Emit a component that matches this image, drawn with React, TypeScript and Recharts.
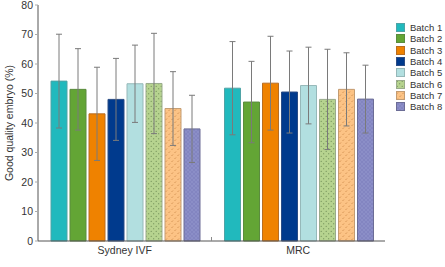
import React from "react";
import { BarChart, Bar, XAxis, YAxis, ErrorBar } from "recharts";

// sites on the x axis
const sites = ["Sydney IVF", "MRC"];
const batches = ["Batch 1", "Batch 2", "Batch 3", "Batch 4", "Batch 5", "Batch 6", "Batch 7", "Batch 8"];

// mean % of good quality embryos, one value per batch
const sydneyMeans = [54.2, 51.4, 43.1, 48.0, 53.3, 53.4, 44.9, 38.0];
const mrcMeans = [51.8, 47.1, 53.5, 50.5, 52.7, 48.0, 51.4, 48.1];
// standard deviations (error bars)
const sydneySd = [15.9, 13.8, 15.8, 13.9, 13.1, 17.0, 12.5, 11.4];
const mrcSd = [15.8, 13.8, 15.9, 13.9, 13.0, 17.0, 12.4, 11.5];

const yTicks = [0, 10, 20, 30, 40, 50, 60, 70, 80];

const FONT = "'Liberation Sans', Arial, sans-serif";
const TEXT = "#333";
const TICK_MARGIN = 6;

// fill + border per batch
const styles = [
  { fill: "#21b9bd", stroke: "#4fa3a6" },
  { fill: "#63a535", stroke: "#5b8c3e" },
  { fill: "#ef8200", stroke: "#b86d22" },
  { fill: "#003a8d", stroke: "#2b4c85" },
  { fill: "#b2dfe0", stroke: "#96b8b9" },
  { fill: "url(#pDots)", stroke: "#9aab8c" },
  { fill: "url(#pDash)", stroke: "#c39c72" },
  { fill: "url(#pHatch)", stroke: "#6c6d96" },
];

const data = sites.map((site, i) => {
  const means = i === 0 ? sydneyMeans : mrcMeans;
  const sds = i === 0 ? sydneySd : mrcSd;
  const row: any = { site };
  batches.forEach((_, b) => {
    row[`b${b}`] = means[b];
    row[`sd${b}`] = sds[b];
  });
  return row;
});

const SiteTick = (props: any) => {
  const { x, y, payload, index } = props;
  const axisY = y - TICK_MARGIN;
  const off = payload && payload.offset;
  return (
    <g>
      <text x={x} y={y} dy="0.71em" textAnchor="middle" fontSize={10.5} fill={TEXT} fontFamily={FONT}>
        {payload.value}
      </text>
      {index === 0 && off ? (
        <line x1={x + off} x2={x + off} y1={axisY} y2={axisY - 4} stroke="#8a8a8a" strokeWidth={1} />
      ) : null}
    </g>
  );
};

const Patterns = () => (
  <svg width={0} height={0} style={{ position: "absolute" }}>
    <defs>
      <pattern id="pDots" width={5} height={5} patternUnits="userSpaceOnUse">
        <rect width={5} height={5} fill="#b6d38f" />
        <circle cx={1.2} cy={1.2} r={0.55} fill="#5f7d48" />
        <circle cx={3.7} cy={3.7} r={0.55} fill="#5f7d48" />
      </pattern>
      <pattern id="pDash" width={6} height={6} patternUnits="userSpaceOnUse">
        <rect width={6} height={6} fill="#fcc385" />
        <line x1={0.5} y1={3} x2={2} y2={1.5} stroke="#c47f3e" strokeWidth={0.7} />
        <line x1={3.5} y1={6} x2={5} y2={4.5} stroke="#c47f3e" strokeWidth={0.7} />
      </pattern>
      <pattern id="pHatch" width={4} height={4} patternUnits="userSpaceOnUse">
        <rect width={4} height={4} fill="#8b8ec7" />
        <path d="M0,0 L4,4 M4,0 L0,4" stroke="#7a7cba" strokeWidth={0.5} />
      </pattern>
    </defs>
  </svg>
);

export default function App() {
  return (
    <div
      style={{
        position: "absolute",
        left: 0,
        top: 0,
        width: 445,
        height: 267,
        background: "#fff",
        overflow: "hidden",
      }}
    >
      <Patterns />
      <BarChart
        width={445}
        height={267}
        data={data}
        margin={{ top: 5, right: 60, bottom: 6, left: 0 }}
        barCategoryGap={13}
        barGap={3}
      >
        <YAxis
          domain={[0, 80]}
          ticks={yTicks}
          width={38}
          interval={0}
          tickSize={3}
          tickMargin={2}
          axisLine={{ stroke: "#555" }}
          tickLine={{ stroke: "#aaa" }}
          tick={{ fontSize: 10.5, fill: TEXT, fontFamily: FONT }}
          label={{
            value: "Good quality embryo (%)",
            angle: -90,
            position: "insideLeft",
            offset: 9,
            style: { textAnchor: "middle", fontSize: 10.5, fill: TEXT, fontFamily: FONT },
          }}
        />
        <XAxis
          dataKey="site"
          height={20}
          interval={0}
          tickSize={0}
          tickMargin={TICK_MARGIN}
          axisLine={{ stroke: "#555" }}
          tickLine={false}
          tick={<SiteTick />}
        />
        {batches.map((name, b) => (
          <Bar
            key={name}
            dataKey={`b${b}`}
            name={name}
            fill={styles[b].fill}
            stroke={styles[b].stroke}
            strokeWidth={1}
            isAnimationActive={false}
          >
            <ErrorBar dataKey={`sd${b}`} width={3} stroke="#7a7a7a" strokeWidth={1} />
          </Bar>
        ))}
      </BarChart>
      <div
        style={{
          position: "absolute",
          left: 396,
          top: 22,
          fontFamily: FONT,
          fontSize: 9.5,
          color: TEXT,
          whiteSpace: "nowrap",
          width: 49,
        }}
      >
        {batches.map((name, b) => (
          <div key={name} style={{ display: "flex", alignItems: "center", height: 11.3 }}>
            <svg width={9} height={9} style={{ marginRight: 5, flexShrink: 0 }}>
              <rect x={0.5} y={0.5} width={8} height={8} fill={styles[b].fill} stroke={styles[b].stroke} />
            </svg>
            <span style={{ lineHeight: "11px" }}>{name}</span>
          </div>
        ))}
      </div>
    </div>
  );
}
